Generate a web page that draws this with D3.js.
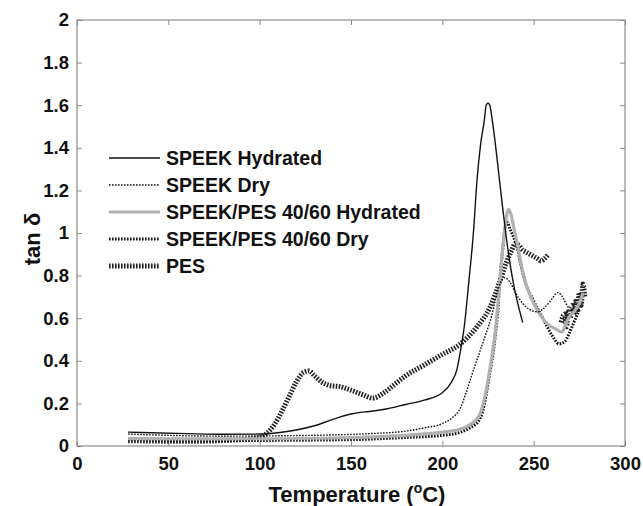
<!DOCTYPE html>
<html><head><meta charset="utf-8">
<script src="https://cdn.jsdelivr.net/npm/d3@7"></script>
<style>
body{margin:0;background:#fff;}
text{font-family:"Liberation Sans",Arial,sans-serif;font-weight:bold;fill:#111;}
</style></head>
<body><svg id="c" width="643" height="506"></svg>
<script>
// ---- data ----
const xTicks = [0, 50, 100, 150, 200, 250, 300];
const yTicks = [0, 0.2, 0.4, 0.6, 0.8, 1, 1.2, 1.4, 1.6, 1.8, 2];
const seriesNames = ["SPEEK Hydrated", "SPEEK Dry", "SPEEK/PES 40/60 Hydrated", "SPEEK/PES 40/60 Dry", "PES"];

const speekHydT = [28, 40, 60, 80, 100, 110, 120, 130, 140, 150, 155, 160, 170, 180, 190, 200, 205, 208, 210, 212, 214.6, 217, 219, 221, 223, 224, 225, 226, 227, 229, 231, 233, 235, 237, 239, 241, 244];
const speekHydV = [0.065, 0.062, 0.058, 0.055, 0.056, 0.062, 0.075, 0.095, 0.125, 0.15, 0.158, 0.162, 0.175, 0.195, 0.215, 0.25, 0.3, 0.36, 0.45, 0.56, 0.78, 1.0, 1.25, 1.42, 1.53, 1.6, 1.61, 1.6, 1.55, 1.42, 1.27, 1.12, 0.98, 0.86, 0.76, 0.68, 0.58];

const speekDryT = [28, 50, 80, 100, 120, 140, 160, 180, 190, 200, 205, 210, 213, 216, 220, 224, 227, 230, 232, 234, 237, 240, 244, 248, 252, 256, 260, 263, 265, 267, 269];
const speekDryV = [0.056, 0.05, 0.046, 0.047, 0.049, 0.052, 0.058, 0.07, 0.085, 0.105, 0.13, 0.18, 0.25, 0.33, 0.43, 0.53, 0.61, 0.72, 0.77, 0.79, 0.77, 0.72, 0.67, 0.64, 0.63, 0.65, 0.69, 0.72, 0.71, 0.68, 0.65];

const blendHydT = [28, 60, 100, 150, 180, 200, 210, 215, 220, 223, 226, 229, 231, 233, 235, 236, 237.5, 239, 241, 244, 247, 250, 254, 258, 262, 265.5, 267, 269, 272, 275, 277];
const blendHydV = [0.035, 0.033, 0.034, 0.04, 0.05, 0.065, 0.08, 0.1, 0.14, 0.22, 0.36, 0.54, 0.72, 0.92, 1.07, 1.11, 1.09, 1.03, 0.95, 0.82, 0.73, 0.67, 0.61, 0.57, 0.55, 0.535, 0.56, 0.6, 0.63, 0.67, 0.72];

const blendDryT = [28, 60, 100, 150, 180, 200, 210, 215, 220, 222, 224, 225.5, 227.5, 229, 230.5, 231.5, 233, 234.5, 235.5, 237, 239, 241, 243, 245, 250, 255, 260, 264, 267, 269, 271, 273, 275];
const blendDryV = [0.03, 0.025, 0.026, 0.03, 0.04, 0.05, 0.065, 0.085, 0.12, 0.16, 0.24, 0.32, 0.42, 0.52, 0.65, 0.78, 0.92, 1.03, 1.05, 1.02, 0.98, 0.93, 0.85, 0.78, 0.68, 0.6, 0.52, 0.48, 0.49, 0.52, 0.56, 0.6, 0.64];

const pesT = [28, 60, 90, 100, 104, 108, 112, 116, 120, 124, 127, 130, 134, 138, 144, 150, 156, 162, 168, 174, 180, 190, 200, 210, 219, 226, 231, 235, 238, 240, 242, 244, 246, 248, 250, 252, 254, 256, 258, 262, 265, 267, 268, 269, 270, 271, 272, 273, 274, 275, 276, 277, 278];
const pesV = [0.025, 0.022, 0.03, 0.04, 0.06, 0.1, 0.16, 0.23, 0.3, 0.345, 0.352, 0.33, 0.3, 0.285, 0.278, 0.262, 0.242, 0.225, 0.25, 0.29, 0.33, 0.38, 0.43, 0.48, 0.56, 0.65, 0.76, 0.86, 0.92, 0.95, 0.94, 0.92, 0.91, 0.9, 0.89, 0.88, 0.87, 0.88, 0.9, null, 0.58, 0.62, 0.56, 0.63, 0.6, 0.66, 0.62, 0.68, 0.64, 0.72, 0.66, 0.76, 0.7];

// ---- chart ----
const W = 643, H = 506;
const m = {l: 77, r: 18, t: 20, b: 60};
const svg = d3.select("#c");
const x = d3.scaleLinear().domain([0, 300]).range([m.l, W - m.r]);
const y = d3.scaleLinear().domain([0, 2]).range([H - m.b, m.t]);
const axisCol = "#8a8a8a";

svg.append("defs").append("clipPath").attr("id", "clip")
  .append("rect").attr("x", m.l).attr("y", m.t).attr("width", W - m.l - m.r).attr("height", H - m.t - m.b);

const fmt = d => String(+d.toFixed(1));
function styleAxis(g){
  g.select(".domain").remove();
  g.selectAll(".tick line").attr("stroke", axisCol).attr("stroke-width", 1);
  g.selectAll(".tick text").style("font-size", "18.5px").attr("fill", "#111");
}
svg.append("g").attr("transform", `translate(0,${y(0)})`)
  .call(d3.axisBottom(x).tickValues(xTicks).tickSize(-5).tickPadding(11).tickFormat(d3.format("d")))
  .call(styleAxis);
svg.append("g").attr("transform", `translate(0,${y(2)})`)
  .call(d3.axisTop(x).tickValues(xTicks).tickSize(-5).tickFormat(""))
  .call(styleAxis);
svg.append("g").attr("transform", `translate(${x(0)},0)`)
  .call(d3.axisLeft(y).tickValues(yTicks).tickSize(-5).tickPadding(8).tickFormat(fmt))
  .call(styleAxis);
svg.append("g").attr("transform", `translate(${x(300)},0)`)
  .call(d3.axisRight(y).tickValues(yTicks).tickSize(-5).tickFormat(""))
  .call(styleAxis);
svg.append("rect").attr("x", x(0)).attr("y", y(2)).attr("width", x(300) - x(0)).attr("height", y(0) - y(2))
  .attr("fill", "none").attr("stroke", axisCol).attr("stroke-width", 1.2);

const styles = [
  {stroke: "#111", width: 1.4, dash: null},
  {stroke: "#111", width: 1.4, dash: "1.6,1.4"},
  {stroke: "#b0b0b0", width: 3.2, dash: null},
  {stroke: "#111", width: 3, dash: "1.6,1.4"},
  {stroke: "#222", width: 5, dash: "1.6,1.4"}
];
const data = [
  speekHydT.map((t, i) => ({t, v: speekHydV[i]})),
  speekDryT.map((t, i) => ({t, v: speekDryV[i]})),
  blendHydT.map((t, i) => ({t, v: blendHydV[i]})),
  blendDryT.map((t, i) => ({t, v: blendDryV[i]})),
  pesT.map((t, i) => ({t, v: pesV[i]}))
];
const line = d3.line().defined(d => d.v != null).x(d => x(d.t)).y(d => y(d.v)).curve(d3.curveMonotoneX);
const plot = svg.append("g").attr("clip-path", "url(#clip)");
const order = [4, 3, 2, 1, 0];
order.forEach(i => {
  plot.append("path").datum(data[i]).attr("d", line)
    .attr("fill", "none").attr("stroke", styles[i].stroke).attr("stroke-width", styles[i].width)
    .attr("stroke-dasharray", styles[i].dash).attr("stroke-linejoin", "round");
});

// legend
const lg = svg.append("g");
seriesNames.forEach((n, i) => {
  const yy = 158 + i * 27;
  lg.append("line").attr("x1", 109).attr("x2", 160).attr("y1", yy).attr("y2", yy)
    .attr("stroke", styles[i].stroke).attr("stroke-width", styles[i].width).attr("stroke-dasharray", styles[i].dash);
  lg.append("text").attr("x", 166).attr("y", yy + 7).style("font-size", "19.5px").text(n);
});

// axis titles
const xt = svg.append("text").attr("x", (x(0) + x(300)) / 2 + 6).attr("y", 502).attr("text-anchor", "middle").style("font-size", "22px");
xt.append("tspan").text("Temperature (");
xt.append("tspan").attr("dy", -9).style("font-size", "14px").text("o");
xt.append("tspan").attr("dy", 9).text("C)");
svg.append("text").attr("transform", `translate(40,${(y(0) + y(2)) / 2 + 6}) rotate(-90)`)
  .attr("text-anchor", "middle").style("font-size", "22px").text("tan δ");
</script></body></html>
